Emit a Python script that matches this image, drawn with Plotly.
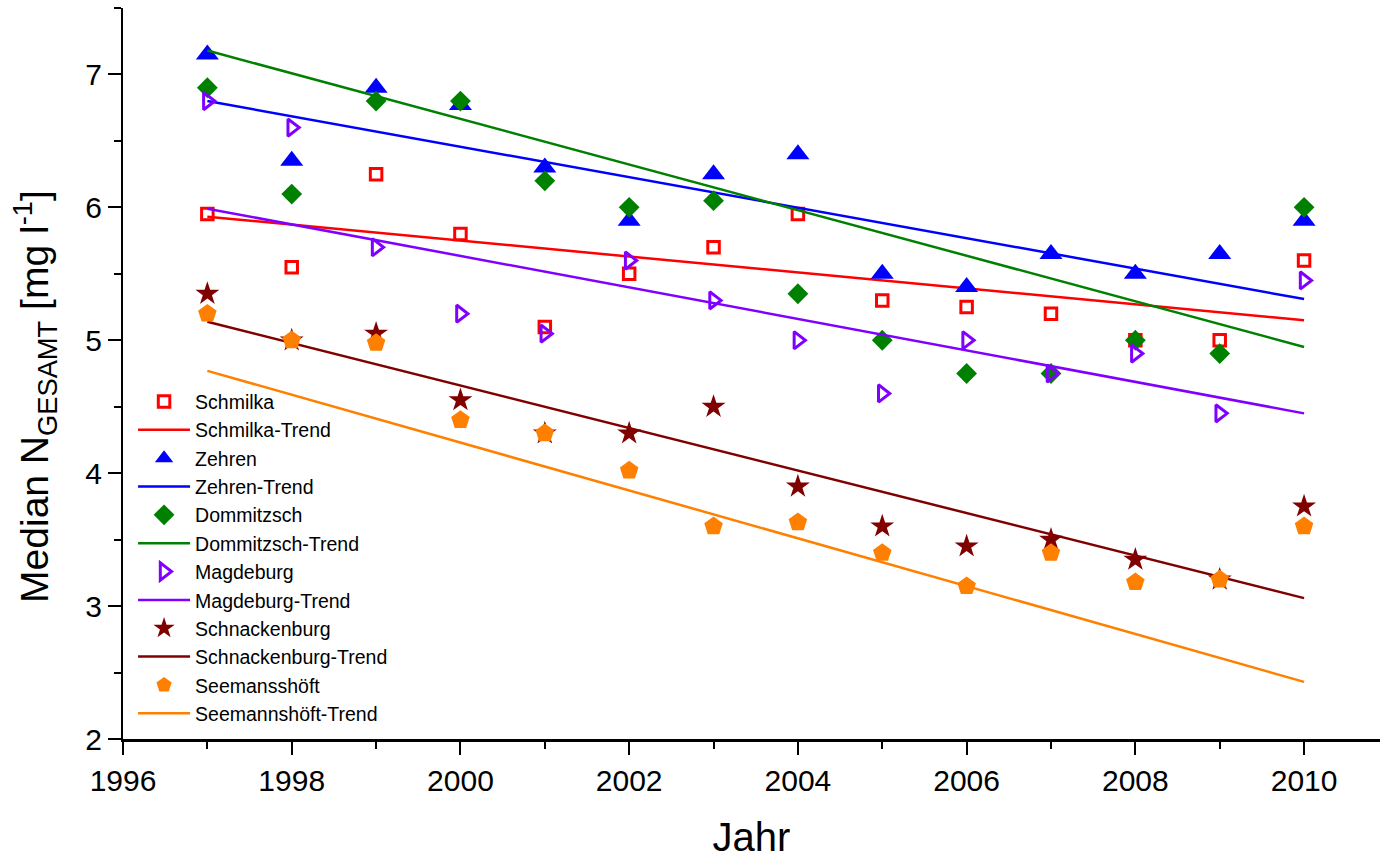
import plotly.graph_objects as go

# Jahre der Messreihen
years = list(range(1997, 2011))

# Median N-gesamt je Messstelle [mg/l]
schmilka = [5.95, 5.55, 6.25, 5.8, 5.1, 5.5, 5.7, 5.95, 5.3, 5.25, 5.2, 5.0, 5.0, 5.6]
zehren = [7.15, 6.35, 6.9, 6.77, 6.3, 5.9, 6.25, 6.4, 5.5, 5.4, 5.65, 5.5, 5.65, 5.9]
dommitzsch = [6.9, 6.1, 6.8, 6.8, 6.2, 6.0, 6.05, 5.35, 5.0, 4.75, 4.75, 5.0, 4.9, 6.0]
magdeburg = [6.8, 6.6, 5.7, 5.2, 5.05, 5.6, 5.3, 5.0, 4.6, 5.0, 4.75, 4.9, 4.45, 5.45]
schnackenburg = [5.35, 5.0, 5.05, 4.55, 4.3, 4.3, 4.5, 3.9, 3.6, 3.45, 3.5, 3.35, 3.2, 3.75]
seemansshoeft = [5.2, 5.0, 4.98, 4.4, 4.3, 4.02, 3.6, 3.63, 3.4, 3.15, 3.4, 3.18, 3.2, 3.6]

# Lineare Trends (Anfangs- und Endwert)
trend_years = [1997, 2010]
schmilka_trend = [5.93, 5.15]
zehren_trend = [6.8, 5.31]
dommitzsch_trend = [7.18, 4.95]
magdeburg_trend = [5.99, 4.45]
schnackenburg_trend = [5.14, 3.06]
seemannshoeft_trend = [4.77, 2.43]

series = [
    ("Schmilka", schmilka, "Schmilka-Trend", schmilka_trend, "#FF0000",
     dict(symbol="square-open", size=11.5, line=dict(width=3, color="#FF0000"))),
    ("Zehren", zehren, "Zehren-Trend", zehren_trend, "#0000FF",
     dict(symbol="triangle-up", size=20)),
    ("Dommitzsch", dommitzsch, "Dommitzsch-Trend", dommitzsch_trend, "#008000",
     dict(symbol="diamond", size=16)),
    ("Magdeburg", magdeburg, "Magdeburg-Trend", magdeburg_trend, "#8000FF",
     dict(symbol="triangle-right-open", size=15, line=dict(width=3, color="#8000FF"))),
    ("Schnackenburg", schnackenburg, "Schnackenburg-Trend", schnackenburg_trend, "#800000",
     dict(symbol="star", size=18)),
    ("Seemansshöft", seemansshoeft, "Seemannshöft-Trend", seemannshoeft_trend, "#FF8000",
     dict(symbol="pentagon", size=19.5)),
]

fig = go.Figure()
for name, vals, tname, tvals, color, marker in series:
    m = dict(color=color)
    m.update(marker)
    fig.add_trace(go.Scatter(x=years, y=vals, mode="markers", name=name,
                             marker=m, cliponaxis=False))
    fig.add_trace(go.Scatter(x=trend_years, y=tvals, mode="lines", name=tname,
                             line=dict(color=color, width=2.5)))

font = "Liberation Sans, Arial, sans-serif"

fig.update_layout(
    width=1380, height=859,
    margin=dict(l=123, r=0, t=8, b=120),
    paper_bgcolor="white", plot_bgcolor="white",
    font=dict(family=font, color="black"),
    showlegend=True,
    legend=dict(x=0.008, y=0.488, xanchor="left", yanchor="top",
                font=dict(size=19.5, family=font), bgcolor="rgba(0,0,0,0)",
                tracegroupgap=0, itemwidth=52),
    xaxis=dict(
        range=[1996, 2010.9], tick0=1996, dtick=2,
        ticks="outside", ticklen=13, tickwidth=2, tickcolor="black",
        showline=True, linewidth=3, linecolor="black",
        showgrid=False, zeroline=False,
        tickfont=dict(size=30, family=font),
        minor=dict(dtick=1, tick0=1996, ticks="outside", ticklen=7, tickwidth=2, tickcolor="black"),
        title=dict(text="Jahr", font=dict(size=40, family=font), standoff=30),
    ),
    yaxis=dict(
        range=[2, 7.5], tick0=2, dtick=1,
        ticks="outside", ticklen=13, tickwidth=2, tickcolor="black",
        showline=True, linewidth=2, linecolor="black",
        showgrid=False, zeroline=False,
        tickfont=dict(size=30, family=font),
        minor=dict(dtick=0.5, tick0=2, ticks="outside", ticklen=7, tickwidth=2, tickcolor="black"),
    ),
    annotations=[dict(
        text="Median N<sub>GESAMT</sub> [mg l<sup>-1</sup>]",
        textangle=-90, xref="paper", yref="paper",
        x=-0.07, y=0.468, xanchor="center", yanchor="middle",
        showarrow=False, font=dict(size=39, family=font),
    )],
)

fig.write_html("out.html")
